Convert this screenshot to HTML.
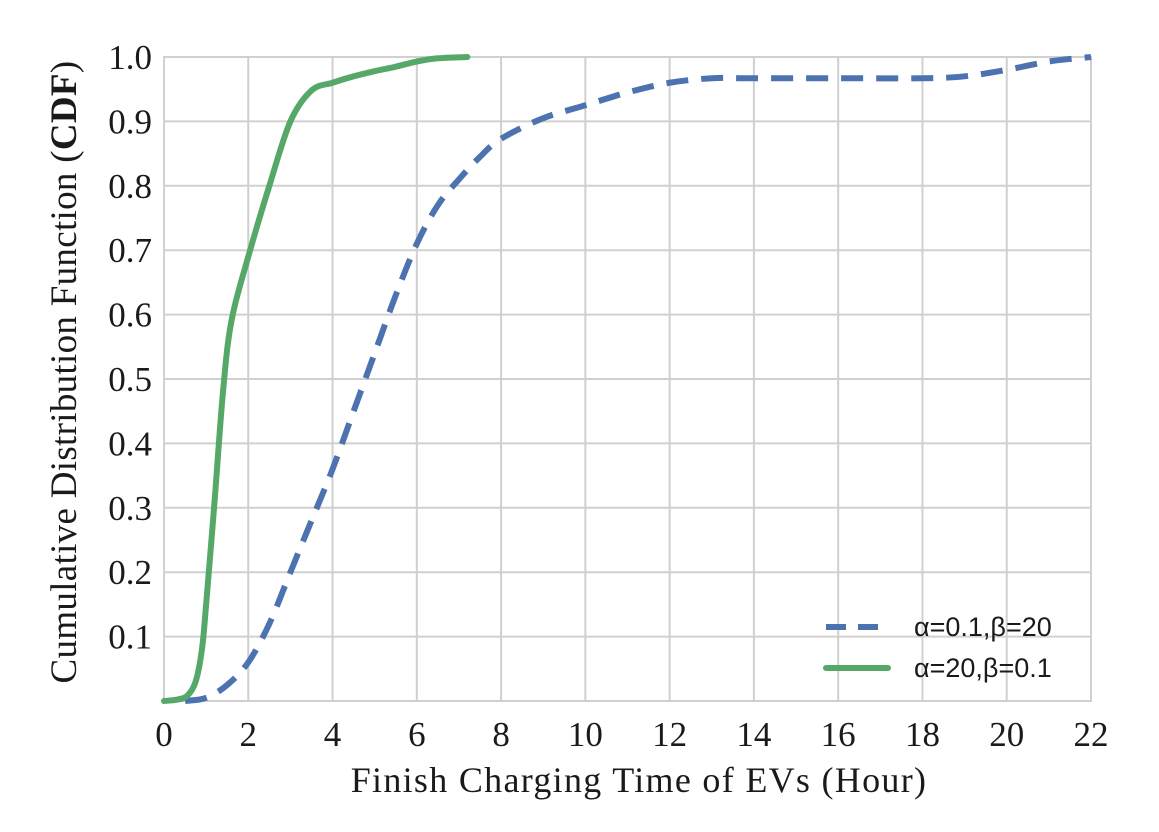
<!DOCTYPE html>
<html><head><meta charset="utf-8"><style>
body{margin:0;background:#fff}
svg text{font-family:"Liberation Serif",serif;fill:#1a1a1a}
</style></head><body>
<svg id="chart" width="1159" height="827" viewBox="0 0 1159 827" xmlns="http://www.w3.org/2000/svg">
<g id="grid"></g>
<g id="ticks"></g>
<g id="series"></g>
<text x="639" y="792" font-size="36" text-anchor="middle" letter-spacing="1.3">Finish Charging Time of  EVs  (Hour)</text>
<text transform="translate(76,372) rotate(-90)" font-size="37" text-anchor="middle" letter-spacing="0.3">Cumulative Distribution Function (<tspan font-weight="bold">CDF</tspan>)</text>
<g>
<line x1="826" y1="627" x2="888" y2="627" stroke="#4C72B0" stroke-width="6" stroke-dasharray="20,12"/>
<text x="914" y="636" font-size="27" style="font-family:'Liberation Sans',sans-serif">α=0.1,β=20</text>
<line x1="826" y1="668" x2="888" y2="668" stroke="#55A868" stroke-width="6" stroke-linecap="round"/>
<text x="914" y="677" font-size="27" style="font-family:'Liberation Sans',sans-serif">α=20,β=0.1</text>
</g>
</svg>
<script>
const xTicks=[0,2,4,6,8,10,12,14,16,18,20,22];
const yTicks=[0.1,0.2,0.3,0.4,0.5,0.6,0.7,0.8,0.9,1.0];
const blueX=[0.5,1,1.5,2,2.5,3,3.5,4,4.5,5,5.5,6,6.5,7,7.5,8,9,10,11,12,13,14,16,18,19,20,21,22];
const blueY=[0,0.005,0.025,0.06,0.12,0.2,0.28,0.36,0.45,0.54,0.63,0.71,0.77,0.81,0.845,0.873,0.905,0.925,0.945,0.96,0.967,0.967,0.967,0.967,0.97,0.98,0.993,1];
const greenX=[0,0.3,0.55,0.75,0.9,1,1.2,1.4,1.6,2,2.5,3,3.5,4,4.5,5,5.5,6,6.5,7.2];
const greenY=[0,0.002,0.008,0.03,0.08,0.15,0.31,0.48,0.59,0.69,0.8,0.9,0.948,0.96,0.97,0.978,0.985,0.993,0.998,1];
const X0=164,X1=1091,Y0=701,Y1=57;
const sx=v=>X0+(v-0)/(22-0)*(X1-X0);
const sy=v=>Y0-(v-0)/(1-0)*(Y0-Y1);
const NS="http://www.w3.org/2000/svg";
function mk(t,a,p){const e=document.createElementNS(NS,t);for(const k in a)e.setAttribute(k,a[k]);p.appendChild(e);return e;}
const grid=document.getElementById('grid'),ticks=document.getElementById('ticks'),ser=document.getElementById('series');
xTicks.forEach(v=>{
 const l=mk('line',{x1:sx(v),x2:sx(v),y1:Y1,y2:Y0,stroke:'#d0d0d0','stroke-width':2},grid);
 
 
 const t=mk('text',{x:sx(v),y:746,'font-size':35,'text-anchor':'middle'},ticks);
 t.textContent=v;
 
 
});
yTicks.forEach(v=>{
 const l=mk('line',{x1:X0,x2:X1,y1:sy(v),y2:sy(v),stroke:'#d0d0d0','stroke-width':2},grid);
 
 
 const t=mk('text',{x:152,y:sy(v)+12,'font-size':35,'text-anchor':'end'},ticks);
 t.textContent=v.toFixed(1);
 
 
});
const fr=mk('rect',{x:X0,y:Y1,width:X1-X0,height:Y0-Y1,fill:'none',stroke:'#d0d0d0','stroke-width':2},grid);


function path(xs,ys){
 const p=xs.map((x,i)=>[sx(x),sy(ys[i])]);
 let d='M'+p[0][0]+','+p[0][1];
 for(let i=0;i<p.length-1;i++){
  const a=p[Math.max(0,i-1)],b=p[i],c=p[i+1],e=p[Math.min(p.length-1,i+2)];
  const c1=[b[0]+(c[0]-a[0])/6,b[1]+(c[1]-a[1])/6],c2=[c[0]-(e[0]-b[0])/6,c[1]-(e[1]-b[1])/6];
  d+=' C'+c1+' '+c2+' '+c;
 }
 return d;
}
const b=mk('path',{d:path(blueX,blueY),fill:'none',stroke:'#4C72B0','stroke-width':6,'stroke-dasharray':'22,13'},ser);


const g=mk('path',{d:path(greenX,greenY),fill:'none',stroke:'#55A868','stroke-width':6,'stroke-linecap':'round'},ser);


</script>
</body></html>
